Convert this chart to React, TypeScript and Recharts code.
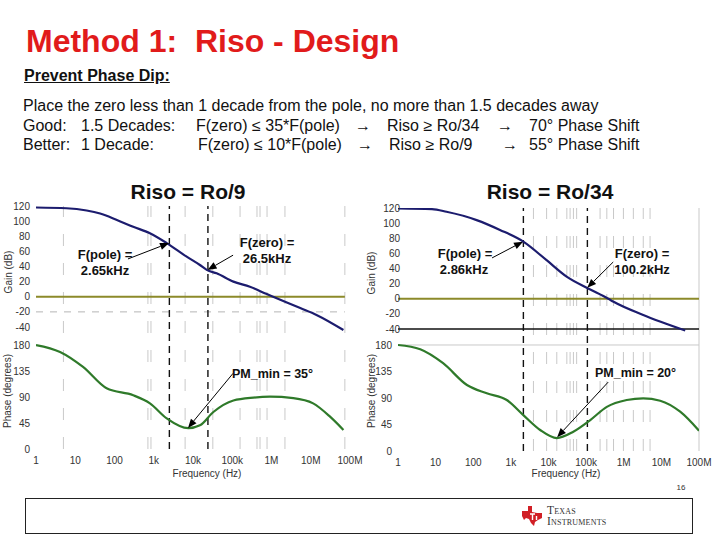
import React from 'react';
import { LineChart, Line, XAxis, YAxis, ReferenceLine } from 'recharts';

// ---------- axes ----------
const freqTicks = [1, 10, 100, 1e3, 1e4, 1e5, 1e6, 1e7, 1e8];
const freqTickLabels = ['1', '10', '100', '1k', '10k', '100k', '1M', '10M', '100M'];
const gainTicks = [-40, -20, 0, 20, 40, 60, 80, 100, 120];
const phaseTicks = [0, 45, 90, 135, 180];

// ---------- left plot: Riso = Ro/9 ----------
const leftGainFreq = [1, 6, 19.5, 43, 115, 300, 800, 2140, 6900, 15000, 22400, 40000, 107000, 282000, 760000, 1.1e6, 5.4e6, 1.4e7, 6.8e7];
const leftGainDb = [118, 117, 114, 110, 101.5, 92.5, 84, 71, 53, 42, 35.5, 31, 20, 13.3, 3.5, 0, -15, -24, -44];
const leftPhaseFreq = [1, 4.1, 15.8, 63, 300, 800, 2140, 7600, 15000, 33000, 107000, 347000, 910000, 3.6e6, 1.15e7, 3.1e7, 6.8e7];
const leftPhaseDeg = [180, 168, 142, 105, 93, 79, 53, 36, 41, 64, 84, 89, 90.5, 88, 79, 56, 33];
const leftMarkers = [2500, 24000];
const leftGrid = [5, 710, 850, 6300, 32000, 158000, 427000, 510000, 770000, 2.2e6, 7.4e7];

// ---------- right plot: Riso = Ro/34 ----------
const rightGainFreq = [1, 8, 19.5, 123, 513, 2140, 8900, 31000, 110000, 390000, 537000, 3.3e6, 4.3e7];
const rightGainDb = [119.5, 118.5, 115, 104, 91, 75.5, 51, 29, 14, 0, -4, -21.5, -42];
const rightPhaseFreq = [1, 3.9, 15.8, 68, 229, 776, 2140, 6000, 16600, 45700, 129000, 355000, 1.2e6, 3.3e6, 9.3e6, 3.16e7, 1e8];
const rightPhaseDeg = [180, 172.7, 149, 112, 98, 86.6, 61, 35.7, 22, 32.8, 52.6, 75, 86.6, 89.5, 85.4, 66.7, 34.5];
const rightMarkers = [2150, 108000];
const rightGrid = [3980, 8900, 16600, 30700, 37500, 46000, 56000, 235000, 355000, 535000, 980000, 1.8e6, 3.3e6, 5e6];

// annotation arrows: [fromFreq, fromVal, toFreq, toVal, axis]
const leftArrows: [number, number, number, number, string][] = [
  [220, 50, 2450, 71, 'g'],
  [105000, 55, 23500, 35.5, 'g'],
  [105000, 131, 7450, 36.5, 'p'],
];
const rightArrows: [number, number, number, number, string][] = [
  [316, 54, 2100, 75.5, 'g'],
  [525000, 48.6, 107000, 14.5, 'g'],
  [386000, 117, 17000, 23.5, 'p'],
];

const toPts = (fs: number[], vs: number[]) => fs.map((f, i) => ({ f, v: vs[i] }));

const NAVY = '#1c1c6e';
const GREEN = '#2f7a2a';
const OLIVE = '#8c8a2a';
const GRID = '#c9c9c9';
const FONT = '"Liberation Sans", Arial, sans-serif';

const ArrowShape = (props: any) => {
  const { x1, y1, x2, y2 } = props;
  if ([x1, y1, x2, y2].some((v) => typeof v !== 'number' || isNaN(v))) return <g />;
  const a = Math.atan2(y2 - y1, x2 - x1);
  const L = 9;
  const W = 3.6;
  const bx = x2 - L * Math.cos(a);
  const by = y2 - L * Math.sin(a);
  const p1 = `${bx + W * Math.sin(a)},${by - W * Math.cos(a)}`;
  const p2 = `${bx - W * Math.sin(a)},${by + W * Math.cos(a)}`;
  return (
    <g>
      <line x1={x1} y1={y1} x2={bx} y2={by} stroke="#000" strokeWidth={1} />
      <polygon points={`${x2},${y2} ${p1} ${p2}`} fill="#000" />
    </g>
  );
};

type BodeProps = {
  left: number;
  width: number;
  margin: { top: number; right: number; left: number; bottom: number };
  gDomain: [number, number];
  pDomain: [number, number];
  gain: { f: number; v: number }[];
  phase: { f: number; v: number }[];
  markers: number[];
  grid: number[];
  arrows: [number, number, number, number, string][];
  right: boolean;
  gainDx: number;
};

const tickStyle = { fontSize: 10, fill: '#333', fontFamily: FONT };

function Bode(p: BodeProps) {
  return (
    <div style={{ position: 'absolute', left: p.left, top: 0 }}>
      <LineChart width={p.width} height={490} margin={p.margin}>
        <XAxis
          dataKey="f"
          type="number"
          scale="log"
          domain={[1, 1e8]}
          ticks={freqTicks}
          interval={0}
          allowDataOverflow
          tickFormatter={(v: number) => freqTickLabels[freqTicks.indexOf(v)] ?? ''}
          axisLine={false}
          tickLine={false}
          height={30}
          tick={tickStyle}
        />
        <YAxis
          yAxisId="p"
          type="number"
          domain={p.pDomain}
          ticks={phaseTicks}
          interval={0}
          allowDataOverflow
          width={1}
          axisLine={false}
          tickLine={false}
          tickSize={4}
          tickMargin={2}
          tick={{ ...tickStyle, dx: 30 }}
        />
        <YAxis
          yAxisId="g"
          type="number"
          domain={p.gDomain}
          ticks={gainTicks}
          interval={0}
          allowDataOverflow
          width={30}
          axisLine={false}
          tickLine={false}
          tickSize={4}
          tickMargin={2}
          tick={{ ...tickStyle, dx: p.gainDx }}
        />
        {p.grid.map((f) => (
          <ReferenceLine key={'gr' + f} x={f} yAxisId="g" stroke={GRID} strokeWidth={1} strokeDasharray="12 17" />
        ))}
        {p.right && <ReferenceLine x={1e8} yAxisId="g" stroke={GRID} strokeWidth={1} />}
        {p.right && <ReferenceLine y={180} yAxisId="p" stroke={GRID} strokeWidth={1} />}
        {p.right ? (
          <ReferenceLine y={-40} yAxisId="g" stroke="#111" strokeWidth={1.5} />
        ) : (
          <ReferenceLine
            yAxisId="g"
            segment={[{ x: 1, y: -20 }, { x: 7.4e7, y: -20 }]}
            stroke="#b5b5b5"
            strokeWidth={1}
            strokeDasharray="7 7"
          />
        )}
        {p.right ? (
          <ReferenceLine y={0} yAxisId="g" stroke={OLIVE} strokeWidth={2} />
        ) : (
          <ReferenceLine yAxisId="g" segment={[{ x: 1, y: 0 }, { x: 7.4e7, y: 0 }]} stroke={OLIVE} strokeWidth={2} />
        )}
        {p.markers.map((f) => (
          <ReferenceLine key={'m' + f} x={f} yAxisId="g" stroke="#111" strokeWidth={1.4} strokeDasharray="7 5" />
        ))}
        <Line
          yAxisId="g"
          data={p.gain}
          dataKey="v"
          type="monotone"
          stroke={NAVY}
          strokeWidth={2.2}
          dot={false}
          activeDot={false}
          isAnimationActive={false}
        />
        <Line
          yAxisId="p"
          data={p.phase}
          dataKey="v"
          type="monotone"
          stroke={GREEN}
          strokeWidth={2.2}
          dot={false}
          activeDot={false}
          isAnimationActive={false}
        />
        {p.arrows.map((a, i) => (
          <ReferenceLine
            key={'a' + i}
            yAxisId={a[4]}
            segment={[{ x: a[0], y: a[1] }, { x: a[2], y: a[3] }]}
            ifOverflow="visible"
            shape={ArrowShape}
          />
        ))}
      </LineChart>
    </div>
  );
}

// text placed by its visual (cap) center
function T({ x, y, fs, bold, color, anchor, children, style }: any) {
  const tx = anchor === 'middle' ? 'translateX(-50%)' : anchor === 'end' ? 'translateX(-100%)' : '';
  return (
    <div
      style={{
        position: 'absolute',
        left: x,
        top: y - 0.49 * fs,
        fontSize: fs,
        lineHeight: 1,
        fontWeight: bold ? 'bold' : 'normal',
        color: color || '#111',
        whiteSpace: 'pre',
        transform: tx,
        fontFamily: FONT,
        ...style,
      }}
    >
      {children}
    </div>
  );
}

function VLabel({ x, y, children }: any) {
  return (
    <div
      style={{
        position: 'absolute',
        left: x,
        top: y,
        fontSize: 10,
        lineHeight: 1,
        color: '#333',
        whiteSpace: 'pre',
        fontFamily: FONT,
        transform: 'translate(-50%, -50%) rotate(-90deg)',
      }}
    >
      {children}
    </div>
  );
}

export default function App() {
  return (
    <div
      style={{
        position: 'absolute',
        left: 0,
        top: 0,
        width: 720,
        height: 540,
        background: '#fff',
        overflow: 'hidden',
        fontFamily: FONT,
      }}
    >
      <T x={26} y={41} fs={32} bold color="#e11b1b">{'Method 1:  Riso - Design'}</T>
      <T x={24} y={76} fs={16} bold style={{ textDecoration: 'underline' }}>Prevent Phase Dip:</T>
      <T x={23} y={106} fs={16}>Place the zero less than 1 decade from the pole, no more than 1.5 decades away</T>

      <T x={23} y={125.5} fs={16}>Good:</T>
      <T x={81} y={125.5} fs={16}>1.5 Decades:</T>
      <T x={196} y={125.5} fs={16}>{'F(zero) ≤ 35*F(pole)'}</T>
      <T x={355} y={125.5} fs={16}>→</T>
      <T x={387} y={125.5} fs={16}>{'Riso ≥ Ro/34'}</T>
      <T x={497} y={125.5} fs={16}>→</T>
      <T x={529} y={125.5} fs={16}>{'70° Phase Shift'}</T>

      <T x={23} y={145} fs={16}>Better:</T>
      <T x={81} y={145} fs={16}>1 Decade:</T>
      <T x={198} y={145} fs={16}>{'F(zero) ≤ 10*F(pole)'}</T>
      <T x={357} y={145} fs={16}>→</T>
      <T x={389} y={145} fs={16}>{'Riso ≥ Ro/9'}</T>
      <T x={502} y={145} fs={16}>→</T>
      <T x={529} y={145} fs={16}>{'55° Phase Shift'}</T>

      <Bode
        left={0}
        width={372}
        margin={{ top: 206, right: 22, left: 5, bottom: 11 }}
        gDomain={[-201.3, 120]}
        pDomain={[0, 420.6]}
        gain={toPts(leftGainFreq, leftGainDb)}
        phase={toPts(leftPhaseFreq, leftPhaseDeg)}
        markers={leftMarkers}
        grid={leftGrid}
        arrows={leftArrows}
        right={false}
        gainDx={0}
      />
      <Bode
        left={360}
        width={360}
        margin={{ top: 208, right: 21, left: 7, bottom: 9 }}
        gDomain={[-201.3, 120]}
        pDomain={[0, 412.6]}
        gain={toPts(rightGainFreq, rightGainDb)}
        phase={toPts(rightPhaseFreq, rightPhaseDeg)}
        markers={rightMarkers}
        grid={rightGrid}
        arrows={rightArrows}
        right={true}
        gainDx={8}
      />

      <T x={188} y={191} fs={21} bold anchor="middle">Riso = Ro/9</T>
      <T x={550} y={191} fs={21} bold anchor="middle">Riso = Ro/34</T>

      <T x={105} y={254} fs={13} bold anchor="middle">F(pole) =</T>
      <T x={105} y={270} fs={13} bold anchor="middle">2.65kHz</T>
      <T x={267} y={242} fs={13} bold anchor="middle">F(zero) =</T>
      <T x={267} y={258.5} fs={13} bold anchor="middle">26.5kHz</T>
      <T x={232} y={374} fs={12.5} bold>{'PM_min = 35°'}</T>

      <T x={465} y={253} fs={13} bold anchor="middle">F(pole) =</T>
      <T x={464} y={269} fs={13} bold anchor="middle">2.86kHz</T>
      <T x={642} y={253} fs={13} bold anchor="middle">F(zero) =</T>
      <T x={642} y={269} fs={13} bold anchor="middle">100.2kHz</T>
      <T x={595} y={373} fs={12.5} bold>{'PM_min = 20°'}</T>

      <VLabel x={9} y={272}>Gain (dB)</VLabel>
      <VLabel x={8} y={391}>Phase (degrees)</VLabel>
      <VLabel x={372} y={273}>Gain (dB)</VLabel>
      <VLabel x={372} y={391}>Phase (degrees)</VLabel>
      <T x={207} y={474} fs={10} anchor="middle" color="#333">Frequency (Hz)</T>
      <T x={566} y={474} fs={10} anchor="middle" color="#333">Frequency (Hz)</T>

      <T x={681} y={488} fs={8} anchor="middle" color="#333">16</T>
      <div
        style={{
          position: 'absolute',
          left: 25,
          top: 498,
          width: 668,
          height: 36,
          border: '1px solid #222',
          boxSizing: 'border-box',
        }}
      />
      <svg style={{ position: 'absolute', left: 522, top: 506 }} width={22} height={20} viewBox="0 0 22 20">
        <polygon
          points="0,5 6,5 6,0 10,0 10,6 15,7 20,7 20,12 16,14 13,16 12,20 9,17 7,13 4,12 2,14 0,10"
          fill="#d11f26"
        />
        <path d="M8,8 L13,8 M10.5,8 L10.5,14 M14.5,10 L14.5,14" stroke="#fff" strokeWidth={1.4} />
      </svg>
      <div
        style={{
          position: 'absolute',
          left: 547,
          top: 505,
          fontFamily: '"Liberation Serif", serif',
          fontVariant: 'small-caps',
          fontSize: 11.5,
          lineHeight: '11px',
          color: '#333',
          letterSpacing: 0.2,
        }}
      >
        <div>Texas</div>
        <div>Instruments</div>
      </div>
    </div>
  );
}
